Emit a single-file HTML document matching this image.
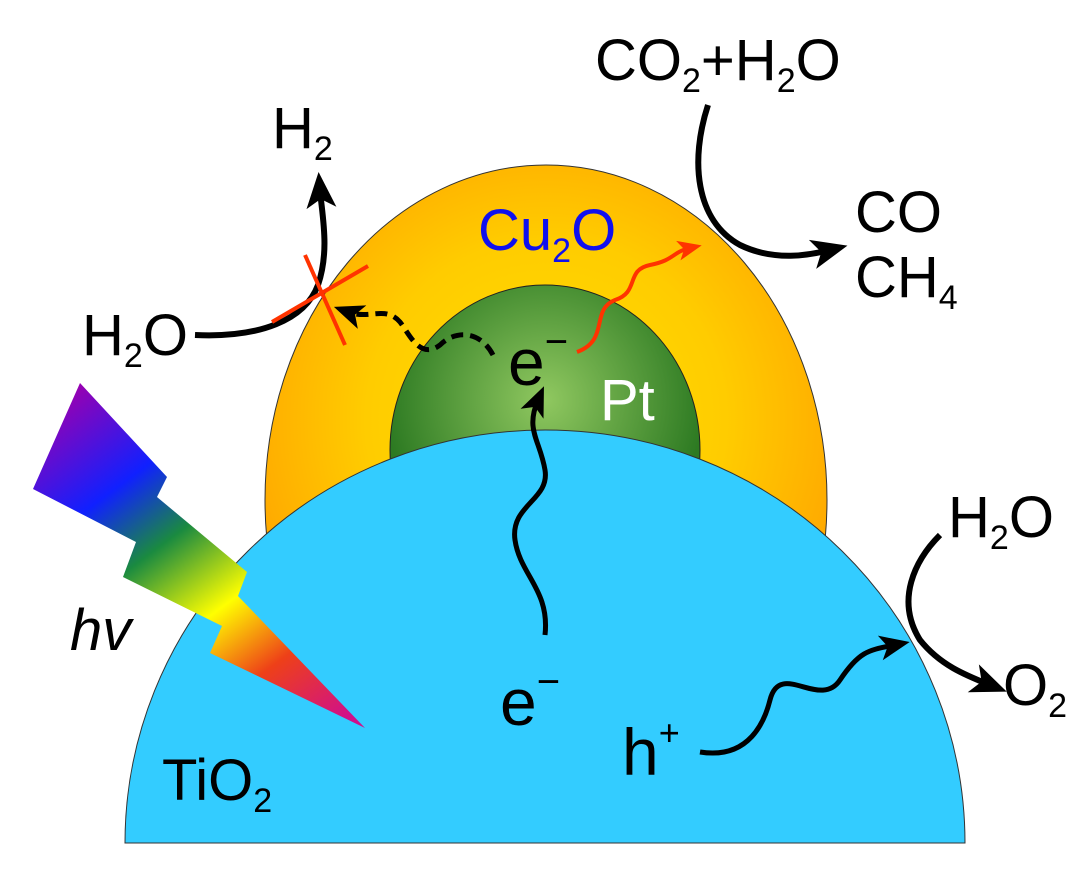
<!DOCTYPE html>
<html><head><meta charset="utf-8"><style>
html,body{margin:0;padding:0;background:#fff}
svg{display:block}
text{font-family:"Liberation Sans",sans-serif}
</style></head><body>
<svg width="1082" height="885" viewBox="0 0 1082 885" xmlns="http://www.w3.org/2000/svg">
<defs>
<radialGradient id="cu" cx="546" cy="420" r="300" gradientUnits="userSpaceOnUse">
<stop offset="0" stop-color="#ffe000"/><stop offset="0.6" stop-color="#ffcc00"/><stop offset="1" stop-color="#ffaa00"/></radialGradient>
<radialGradient id="pt" cx="545" cy="400" r="160" gradientUnits="userSpaceOnUse">
<stop offset="0" stop-color="#90c860"/><stop offset="1" stop-color="#2d7a22"/></radialGradient>
<linearGradient id="bolt" x1="75" y1="385" x2="330" y2="730" gradientUnits="userSpaceOnUse">
<stop offset="0" stop-color="#9a00b0"/><stop offset="0.25" stop-color="#1020ff"/><stop offset="0.42" stop-color="#1a8a40"/><stop offset="0.62" stop-color="#ffff00"/><stop offset="0.8" stop-color="#ee4018"/><stop offset="1" stop-color="#d0108a"/></linearGradient>
<marker id="ah" markerWidth="6" markerHeight="6" refX="3" refY="3" orient="auto" markerUnits="strokeWidth"><path d="M0,0.5 L6,3 L0,5.5 L1.5,3 z" fill="#000"/></marker>
<marker id="ahr" markerWidth="6" markerHeight="6" refX="3" refY="3" orient="auto" markerUnits="strokeWidth"><path d="M0,0.5 L6,3 L0,5.5 L1.5,3 z" fill="#ff3300"/></marker>
</defs>
<ellipse cx="546" cy="500" rx="281" ry="335" fill="url(#cu)" stroke="#333" stroke-width="1"/>
<ellipse cx="545" cy="450" rx="155" ry="165" fill="url(#pt)" stroke="#222" stroke-width="1"/>
<path d="M125,843 A420,413 0 0 1 965,843 Z" fill="#33ccff" stroke="#333" stroke-width="1"/>
<polygon points="80,383 167,477 157,497 247,572 238,596 365,728 210,653 222,626 123,577 136,542 33,489" fill="url(#bolt)"/>
<path d="M195,335 C260,338 305,320 318,285 C330,250 322,215 320,190" fill="none" stroke="#000" stroke-width="6" marker-end="url(#ah)"/>
<line x1="272" y1="322" x2="368" y2="266" stroke="#ff3300" stroke-width="4"/>
<line x1="305" y1="255" x2="345" y2="345" stroke="#ff3300" stroke-width="4"/>
<path d="M493,355 C480,330 455,330 440,345 C420,360 410,335 400,322 C385,305 370,320 348,312" fill="none" stroke="#000" stroke-width="5" stroke-dasharray="12,7" marker-end="url(#ah)"/>
<path d="M577,352 C610,340 590,310 615,300 C640,292 625,270 650,265 C675,260 672,252 690,248" fill="none" stroke="#ff3300" stroke-width="4" marker-end="url(#ahr)"/>
<path d="M708,105 C690,160 695,220 740,245 C775,262 810,255 830,250" fill="none" stroke="#000" stroke-width="6" marker-end="url(#ah)"/>
<path d="M545,635 C550,590 520,575 515,540 C510,505 550,500 545,470 C540,440 525,430 538,400" fill="none" stroke="#000" stroke-width="5" marker-end="url(#ah)"/>
<path d="M700,752 C750,760 765,720 770,700 C780,660 820,710 840,680 C860,650 870,650 895,645" fill="none" stroke="#000" stroke-width="5" marker-end="url(#ah)"/>
<path d="M940,535 C915,560 895,600 920,640 C940,665 965,675 990,685" fill="none" stroke="#000" stroke-width="6" marker-end="url(#ah)"/>
<g font-size="58" fill="#000">
<text x="595" y="80">CO<tspan font-size="34" dy="12">2</tspan><tspan dy="-12">+H</tspan><tspan font-size="34" dy="12">2</tspan><tspan dy="-12">O</tspan></text>
<text x="272" y="148">H<tspan font-size="34" dy="12">2</tspan></text>
<text x="478" y="250" fill="#1010ee">Cu<tspan font-size="34" dy="12">2</tspan><tspan dy="-12">O</tspan></text>
<text x="855" y="232">CO</text>
<text x="855" y="297">CH<tspan font-size="34" dy="12">4</tspan></text>
<text x="82" y="355">H<tspan font-size="34" dy="12">2</tspan><tspan dy="-12">O</tspan></text>
<text x="508" y="385" font-size="66">e<tspan font-size="40" dy="-30">−</tspan></text>
<text x="600" y="420" fill="#fff">Pt</text>
<text x="948" y="537">H<tspan font-size="34" dy="12">2</tspan><tspan dy="-12">O</tspan></text>
<text x="1003" y="705">O<tspan font-size="34" dy="12">2</tspan></text>
<text x="70" y="650" font-style="italic">hv</text>
<text x="500" y="725" font-size="66">e<tspan font-size="40" dy="-30">−</tspan></text>
<text x="622" y="775" font-size="66">h<tspan font-size="36" dy="-30">+</tspan></text>
<text x="162" y="800">TiO<tspan font-size="34" dy="12">2</tspan></text>
</g>
</svg>
</body></html>
